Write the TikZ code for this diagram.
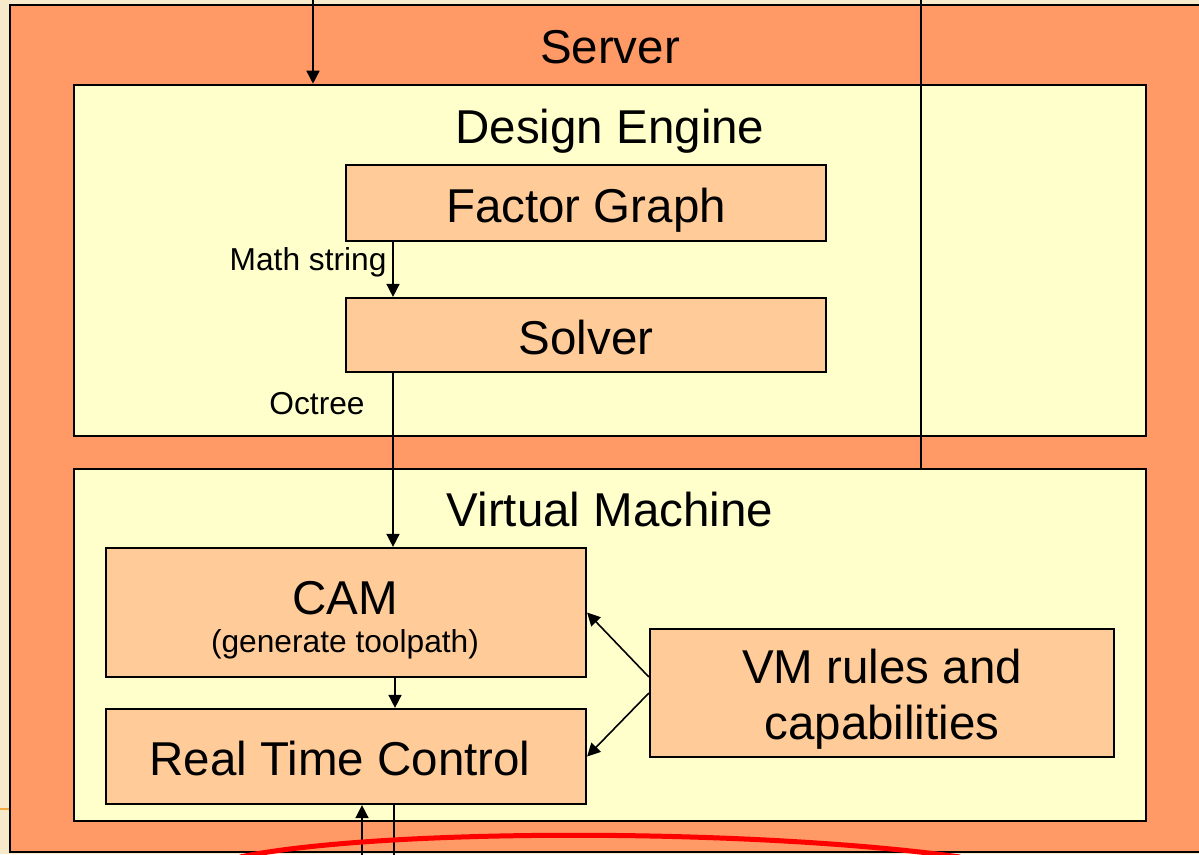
\documentclass[tikz,border=0pt]{standalone}
\usepackage{fontspec}
\setmainfont{Liberation Sans}
\usetikzlibrary{arrows.meta,positioning,calc}
\definecolor{bgcream}{HTML}{F6EACB}
\definecolor{serverorange}{HTML}{FF9966}
\definecolor{paleyellow}{HTML}{FFFFCC}
\definecolor{boxpeach}{HTML}{FFCC99}
\definecolor{tickorange}{HTML}{F2A93F}

\begin{document}
\begin{tikzpicture}[x=1pt, y=-1pt, >={Triangle[length=13pt,width=13pt]},
  bigfont/.style={font=\fontsize{47.5}{56}\selectfont},
  smallfont/.style={font=\fontsize{31.7}{38}\selectfont},
  panel/.style={draw=black, line width=2.6pt, fill=paleyellow,
    minimum width=1072pt, inner sep=0pt},
  part/.style={draw=black, line width=2.2pt, fill=boxpeach,
    inner sep=0pt, bigfont, text height=38pt, text depth=0pt},
  link/.style={->, line width=1.6pt},
  wire/.style={line width=1.8pt}]
  %% Page frame
  \useasboundingbox (0,0) rectangle (1199,854);
  \clip (0,0) rectangle (1199,854);
  \fill[bgcream] (0,0) rectangle (1199,854);
  \draw[tickorange, line width=2pt] (0,809) -- (9,809);

  %% Server
  \draw[fill=serverorange, line width=2.8pt] (10,5) rectangle (1220,852);
  \node[bigfont, anchor=base] (server) at (610,63) {Server};

  %% Design engine
  \node[panel, minimum height=351pt] (de) at (610,260.5) {};
  \node[bigfont, anchor=base] (detitle) at (610,143) {Design Engine};
  \node[part, minimum width=480pt, minimum height=76pt] (fg) at (586,203) {Factor Graph};
  \node[part, minimum width=480pt, minimum height=74pt] (sol) at (586,335) {Solver};

  %% Virtual machine
  \node[panel, minimum height=352pt] (vm) at (610,645) {};
  \node[bigfont, anchor=base] (vmtitle) at (610,526) {Virtual Machine};
  \node[part, minimum width=480pt, minimum height=129pt] (cam) at (346,612.5) {};
  \node[bigfont, anchor=base] (camtitle) at (345,614) {CAM};
  \node[smallfont, anchor=base] (camsub) at (345,652) {(generate toolpath)};
  \node[part, minimum width=480pt, minimum height=95pt] (rtc) at (346,756.5)
    {Real Time Control\hspace*{12pt}};
  \node[part, minimum width=464pt, minimum height=128pt] (vmr) at (882,693) {};
  \node[bigfont, anchor=base] (vmrtop) at (882,683) {VM rules and};
  \node[bigfont, anchor=base] (vmrbot) at (882,739) {capabilities};

  %% Flows from outside
  \coordinate (topin) at (313,0);
  \coordinate (topout) at (921,0);
  \draw[link] (topin) -- (topin |- de.north);
  \draw[wire] (topout) -- (topout |- vm.north);

  %% Inner flows
  \draw[link] ([xshift=-193pt]fg.south) -- ([xshift=-193pt]sol.north);
  \node[smallfont, anchor=base east] (mathlbl) at (390,270) {Math string};
  \draw[link] ([xshift=-193pt]sol.south) -- ([xshift=-193pt]sol.south |- cam.north);
  \node[smallfont, anchor=base] (octlbl) at (317,414) {Octree};
  \draw[link] ([xshift=49pt]cam.south) -- ([xshift=49pt]cam.south |- rtc.north);
  \draw[link] ([yshift=16pt]vmr.west) -- (cam.east);
  \draw[link] (vmr.west) -- (rtc.east);

  %% Bottom link
  \coordinate (botin) at (362,860);
  \coordinate (botout) at (394,860);
  \draw[link] (botin) -- (botin |- rtc.south);
  \draw[wire] (rtc.south -| botout) -- (botout);

  %% Red stroke
  \draw[red, line width=5pt] (240,857) .. controls (380,828) and (750,828) .. (960,857);
\end{tikzpicture}
\end{document}
